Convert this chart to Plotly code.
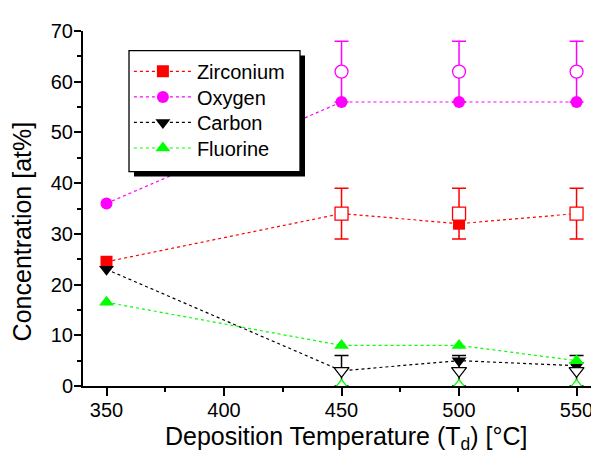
import plotly.graph_objects as go

# ---- data ----
temps = [350, 450, 500, 550]
zirconium = [24.5, 34, 32, 34]
oxygen = [36, 56, 56, 56]
carbon = [23, 3, 5, 4]
fluorine = [16.5, 8, 8, 5]

temps_open = [450, 500, 550]
zirconium_open = [34, 34, 34]
zirconium_err = [5, 5, 5]
oxygen_open = [62, 62, 62]
oxygen_err = [6, 6, 6]
carbon_open = [3, 3, 3]
carbon_err = [3, 3, 3]
fluorine_open = [0, 0, 0]

series_names = ["Zirconium", "Oxygen", "Carbon", "Fluorine"]
colors = ["#FF0000", "#FF00FF", "#000000", "#00FF00"]
symbols = ["square", "circle", "triangle-down", "triangle-up"]

FONT = "Liberation Sans, Arial, sans-serif"

fig = go.Figure()

open_sets = [
    (zirconium_open, zirconium_err, colors[0], symbols[0]),
    (oxygen_open, oxygen_err, colors[1], symbols[1]),
    (carbon_open, carbon_err, colors[2], symbols[2]),
    (fluorine_open, None, colors[3], symbols[3]),
]

# error bars of the open (second) data set, drawn beneath everything
for vals, err, col, sym in open_sets:
    if err is None:
        continue
    fig.add_trace(go.Scatter(
        x=temps_open, y=vals, mode="markers", showlegend=False, hoverinfo="skip",
        marker=dict(size=1, color="rgba(0,0,0,0)"),
        error_y=dict(type="data", array=err, visible=True, color=col,
                     thickness=1.5, width=7),
    ))

legend_ids = ["legend", "legend2", "legend3", "legend4"]
filled = [zirconium, oxygen, carbon, fluorine]
for name, vals, col, sym, lg in zip(series_names, filled, colors, symbols, legend_ids):
    fig.add_trace(go.Scatter(
        x=temps, y=vals, name=name, mode="lines+markers", legend=lg,
        line=dict(color=col, width=1.2, dash="dot"),
        marker=dict(symbol=sym, size=13 if "triangle" in sym else 12, color=col,
                    line=dict(width=0)),
    ))

for vals, err, col, sym in open_sets:
    fig.add_trace(go.Scatter(
        x=temps_open, y=vals, mode="markers", showlegend=False,
        marker=dict(symbol=sym, size=13, color="white",
                    line=dict(color=col, width=1.3)),
    ))

legend_rows = [0.8864, 0.8144, 0.7424, 0.6704]
legends = {}
for lg, yy in zip(legend_ids, legend_rows):
    legends[lg] = dict(x=0.09, y=yy, xanchor="left", yanchor="middle",
                       bgcolor="rgba(0,0,0,0)", borderwidth=0,
                       font=dict(size=20, family=FONT), itemwidth=58)

fig.update_layout(
    width=599, height=461,
    margin=dict(l=75, r=14, t=17, b=83),
    plot_bgcolor="white", paper_bgcolor="white",
    font=dict(family=FONT, color="black", size=20),
    showlegend=True,
    **legends,
    xaxis=dict(range=[340, 557], tickvals=[350, 400, 450, 500, 550],
               ticks="outside", ticklen=8, tickwidth=1.5, tickcolor="black",
               showline=True, linewidth=2, linecolor="black",
               showgrid=False, zeroline=False, ticklabelstandoff=-3,
               tickfont=dict(size=20, family=FONT),
               minor=dict(dtick=25, tick0=350, ticks="outside", ticklen=4,
                          tickwidth=1.5, tickcolor="black", showgrid=False)),
    yaxis=dict(range=[0, 70], dtick=10, tick0=0,
               ticks="outside", ticklen=7, tickwidth=1.5, tickcolor="black",
               showline=True, linewidth=2, linecolor="black",
               showgrid=False, zeroline=False, ticklabelstandoff=-3,
               tickfont=dict(size=20, family=FONT),
               minor=dict(dtick=5, tick0=0, ticks="outside", ticklen=4,
                          tickwidth=1.5, tickcolor="black", showgrid=False)),
    xaxis2=dict(range=[340, 557], overlaying="x", side="top", anchor="y",
                tickvals=[350, 400, 450, 500, 550], showticklabels=False,
                ticks="inside", ticklen=6, tickwidth=1.5, tickcolor="black",
                showline=True, linewidth=2, linecolor="black",
                showgrid=False, zeroline=False,
                minor=dict(dtick=25, tick0=350, ticks="inside", ticklen=6,
                           tickwidth=1.5, tickcolor="black", showgrid=False)),
    yaxis2=dict(range=[0, 70], overlaying="y", side="right", anchor="x",
                dtick=10, tick0=0, showticklabels=False,
                ticks="inside", ticklen=6, tickwidth=1.5, tickcolor="black",
                showline=True, linewidth=2, linecolor="black",
                showgrid=False, zeroline=False,
                minor=dict(dtick=5, tick0=0, ticks="inside", ticklen=6,
                           tickwidth=1.5, tickcolor="black", showgrid=False)),
    shapes=[
        # legend drop shadow
        dict(type="rect", xref="paper", yref="paper",
             x0=0.10, x1=0.4353, y0=0.59, y1=0.9307,
             fillcolor="black", line=dict(width=0), layer="above"),
        # legend frame
        dict(type="rect", xref="paper", yref="paper",
             x0=0.0902, x1=0.4255, y0=0.6039, y1=0.9446,
             fillcolor="white", line=dict(color="black", width=1.3), layer="above"),
    ],
    annotations=[
        dict(text="Concentration [at%]", xref="paper", yref="paper",
             x=-0.12, y=0.435, xanchor="center", yanchor="middle",
             textangle=-90, showarrow=False, font=dict(size=25, family=FONT)),
        dict(text="Deposition Temperature (T<sub>d</sub>) [°C]", xref="paper", yref="paper",
             x=0.515, y=-0.095, xanchor="center", yanchor="top",
             showarrow=False, font=dict(size=25, family=FONT)),
    ],
)

fig.write_html("out.html")
